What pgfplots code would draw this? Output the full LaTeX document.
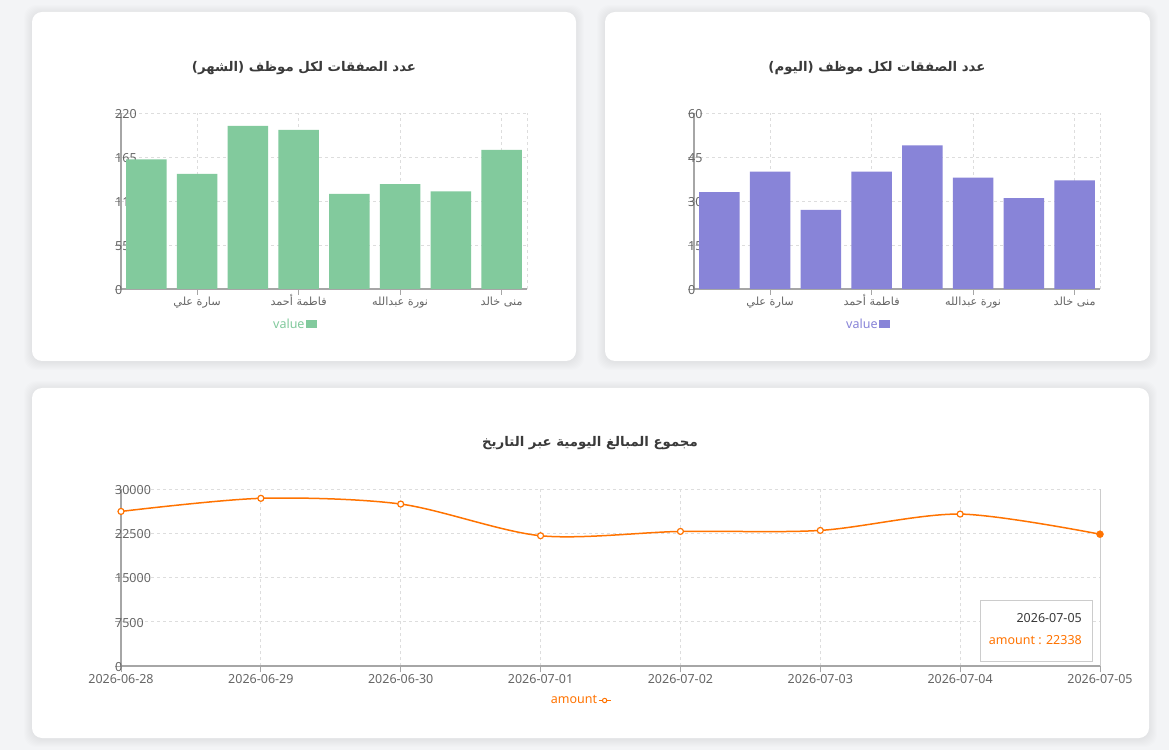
\documentclass[border=0pt]{standalone}
\usepackage{pgfplots}
\usepackage{pgfplotstable}
\pgfplotsset{compat=1.18}
\usepackage{fontspec}
\setmainfont{Noto Sans}
\newfontfamily\arabicfont[Script=Arabic]{DejaVu Sans}
\TeXXeTstate=1
\newcommand{\ar}[1]{{\arabicfont\fontsize{11.2}{14}\selectfont\beginR #1\endR}}
\newcommand{\tf}{\fontsize{12.5}{15}\selectfont}
\newcommand{\titlefont}{\arabicfont\bfseries\fontsize{13.3}{16}\selectfont}

\definecolor{pagebg}{HTML}{F3F4F6}
\definecolor{barGreen}{HTML}{82CA9D}
\definecolor{barPurple}{HTML}{8884D8}
\definecolor{lineOrange}{HTML}{FF7300}
\definecolor{gridgray}{HTML}{DDDDDD}
\definecolor{axisgray}{HTML}{A6A6A6}
\definecolor{tickgray}{HTML}{666666}
\definecolor{titlegray}{HTML}{3A3A3A}
\definecolor{tipborder}{HTML}{CCCCCC}

% deals per employee, this month
\pgfplotstableread{
pos deals
0 162
1 144
2 204
3 199
4 119
5 131
6 122
7 174
}\monthdeals

% deals per employee, today
\pgfplotstableread{
pos deals
0 33
1 40
2 27
3 40
4 49
5 38
6 31
7 37
}\daydeals

% daily totals
\pgfplotstableread{
day amount
0 26200
1 28420
2 27450
3 22080
4 22810
5 22980
6 25750
7 22338
}\dailyamounts

\pgfplotsset{
  panel frame/.style={
    scale only axis, anchor=south west,
    axis x line*=bottom, axis y line*=left,
    axis line style={draw=axisgray, line width=1.2pt},
    tick align=outside, major tick length=6pt,
    tick style={draw=axisgray, line width=0.8pt},
    grid=major,
    major grid style={draw=gridgray, line width=0.8pt, dash pattern=on 3pt off 3pt},
    ticklabel style={font=\tf, text=tickgray},
    yticklabel style={anchor=west, inner sep=0pt, yshift=-0.8pt},
    xticklabel style={anchor=north, inner sep=0pt, text height=9pt, text depth=3pt, yshift=-1.8pt},
    /pgf/number format/assume math mode=true,
    /pgf/number format/1000 sep={},
    scaled y ticks=false,
  },
  bar frame/.style={
    panel frame, width=406pt, height=176pt,
    xmin=-0.5, xmax=7.5, ymin=0,
    xtick={1,3,5,7},
    xticklabels={\ar{سارة علي},\ar{فاطمة أحمد},\ar{نورة عبدالله},\ar{منى خالد}},
    extra x ticks={7.5}, extra x tick labels={},
    extra x tick style={major tick length=0pt},
  },
  bar layer/.style={
    scale only axis, anchor=south west, hide axis,
    width=406pt, height=176pt, xmin=-0.5, xmax=7.5, ymin=0,
    ybar, bar width=40.6pt, bar shift=0pt,
    legend plot pos=right,
    legend style={draw=none, fill=none, inner sep=0pt, font=\tf,
      nodes={inner sep=1pt}, anchor=center, at={(0.427,-0.2)}},
  },
}

\newcommand{\card}[4]{%
  \foreach \s in {1,...,8}{%
    \fill[black, opacity=0.006, rounded corners=12pt]
      (#1pt-\s pt,#2pt-\s pt-1pt) rectangle (#3pt+\s pt,#4pt+\s pt-1pt);
  }%
  \fill[white, rounded corners=10pt] (#1pt,#2pt) rectangle (#3pt,#4pt);
}

\begin{document}
\begin{tikzpicture}
\fill[pagebg] (0,0) rectangle (1169pt,750pt);
\useasboundingbox (0,0) rectangle (1169pt,750pt);

\card{32}{389}{576}{738}
\card{605}{389}{1150}{738}
\card{32}{12}{1149}{362}

% titles
\node[font=\titlefont, text=titlegray]
  at (304pt,682pt) {\beginR عدد الصفقات لكل موظف (الشهر)\endR};
\node[font=\titlefont, text=titlegray]
  at (877pt,682pt) {\beginR عدد الصفقات لكل موظف (اليوم)\endR};
\node[font=\titlefont, text=titlegray]
  at (590pt,307pt) {\beginR مجموع المبالغ اليومية عبر التاريخ\endR};

% monthly deals: frame, then bars above the tick labels
\begin{axis}[bar frame, at={(121pt,461pt)}, ymax=220, ytick={0,55,110,165,220}]
\end{axis}
\begin{axis}[bar layer, at={(121pt,461pt)}, ymax=220,
  legend image code/.code={\fill[barGreen] (0pt,-4pt) rectangle (11pt,4pt);}]
\addplot[fill=barGreen, draw=none] table[x=pos, y=deals] {\monthdeals};
\addlegendentry{\textcolor{barGreen}{value}}
\end{axis}

% daily deals
\begin{axis}[bar frame, at={(694pt,461pt)}, ymax=60, ytick={0,15,30,45,60}]
\end{axis}
\begin{axis}[bar layer, at={(694pt,461pt)}, ymax=60,
  legend image code/.code={\fill[barPurple] (0pt,-4pt) rectangle (11pt,4pt);}]
\addplot[fill=barPurple, draw=none] table[x=pos, y=deals] {\daydeals};
\addlegendentry{\textcolor{barPurple}{value}}
\end{axis}

% daily amounts
\begin{axis}[panel frame, at={(121pt,84pt)}, width=979pt, height=177pt,
  xmin=0, xmax=7, ymin=0, ymax=30000,
  xtick={0,...,7},
  xticklabels={2026-06-28,2026-06-29,2026-06-30,2026-07-01,2026-07-02,2026-07-03,2026-07-04,2026-07-05},
  ytick={0,7500,15000,22500,30000},
  clip=false,
  legend plot pos=right,
  legend style={draw=none, fill=none, inner sep=0pt, font=\tf,
    nodes={inner sep=1pt}, anchor=center, at={(0.4694,-0.195)}},
  legend image code/.code={%
    \draw[lineOrange, line width=1.2pt] (0pt,0pt) -- (12pt,0pt);
    \draw[lineOrange, fill=white, line width=1pt] (6pt,0pt) circle (2.2pt);}]
\draw[tipborder, line width=1pt] (axis cs:7,0) -- (axis cs:7,30000);
\addplot[lineOrange, line width=1.5pt, smooth, tension=0.5,
  mark=*, mark size=3pt, mark indices={1,...,7},
  mark options={fill=white, draw=lineOrange, line width=1.2pt}]
  table[x=day, y=amount] {\dailyamounts};
\addlegendentry{\textcolor{lineOrange}{amount}}
\addplot[forget plot, only marks, mark=*, mark size=3.5pt, mark indices={8},
  mark options={fill=lineOrange, draw=lineOrange}]
  table[x=day, y=amount] {\dailyamounts};
\end{axis}

% hover box for the last day
\pgfplotstablegetelem{7}{amount}\of\dailyamounts
\let\lastamount\pgfplotsretval
\fill[white, draw=tipborder, line width=0.8pt] (980pt,89pt) rectangle (1092pt,150pt);
\node[anchor=east, text=titlegray, font=\tf, inner sep=0pt] at (1082pt,132pt) {2026-07-05};
\node[anchor=east, text=lineOrange, font=\tf, inner sep=0pt] at (1082pt,110pt) {amount : \lastamount};
\end{tikzpicture}
\end{document}
